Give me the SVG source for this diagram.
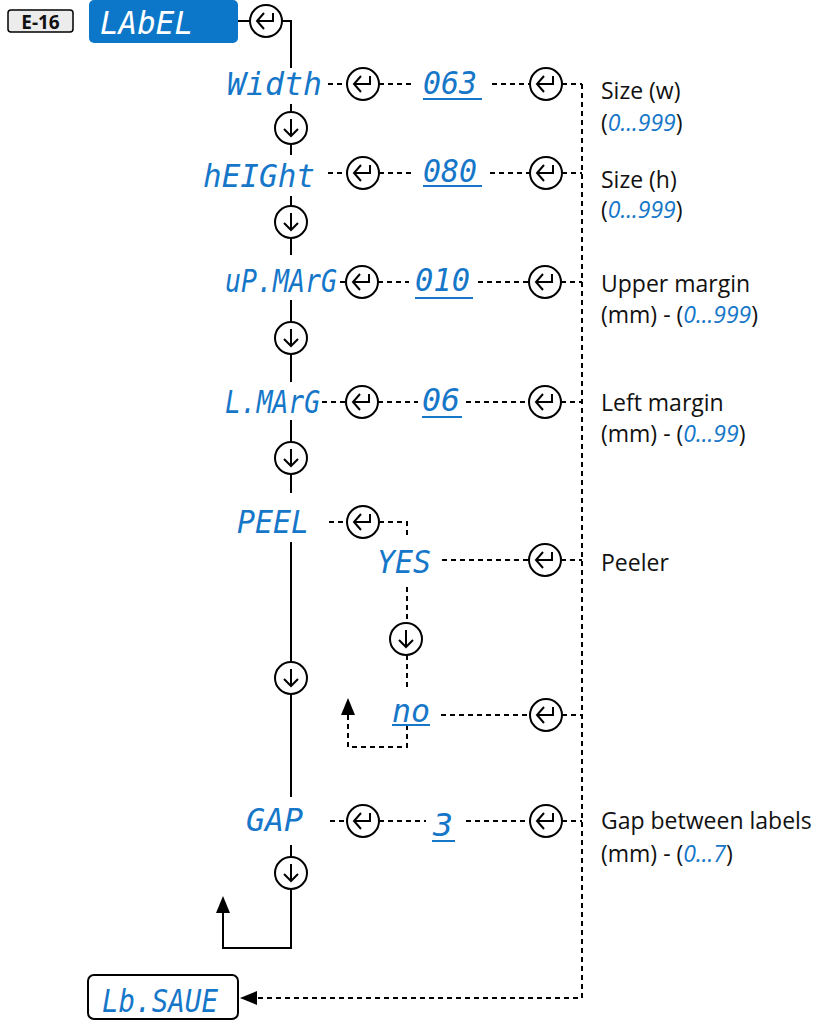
<svg xmlns="http://www.w3.org/2000/svg" width="833" height="1021" viewBox="0 0 833 1021">
<style>
.seg{font-family:"DejaVu Sans Mono","Liberation Mono",monospace;font-style:italic;font-size:32px;fill:#1677c9}
.segw{font-family:"DejaVu Sans Mono","Liberation Mono",monospace;font-style:italic;font-size:32px;fill:#ffffff}
.desc{font-family:"Open Sans","Noto Sans","Liberation Sans",sans-serif;font-size:23px;fill:#111}
.dig{font-family:"Open Sans","Noto Sans","Liberation Sans",sans-serif;font-style:italic;fill:#1677c9}
.ln{stroke:#000;stroke-width:2;fill:none}
.dsh{stroke:#000;stroke-width:2;fill:none;stroke-dasharray:5 4}
.ul{stroke:#1677c9;stroke-width:2}
</style>
<defs>
<g id="enter">
<circle r="16" fill="#fff" stroke="#000" stroke-width="2"/>
<path d="M-2,-8 L-9,0 L-2,8 M-9,0 H7 V-8" fill="none" stroke="#000" stroke-width="2"/>
</g>
<g id="down">
<circle r="16" fill="#fff" stroke="#000" stroke-width="2"/>
<path d="M0,-9 V8 M-7,1 L0,8 L7,1" fill="none" stroke="#000" stroke-width="2"/>
</g>
<marker id="arr" viewBox="0 0 17 14" refX="0" refY="7" markerWidth="17" markerHeight="14" markerUnits="userSpaceOnUse" orient="auto">
<path d="M0,0 L17,7 L0,14 z" fill="#000"/>
</marker>
</defs>

<g id="connectors">
<path class="ln" d="M238,21 H250"/>
<path class="ln" d="M282,21 H291 V68"/>
<path class="ln" d="M291,104 V112 M291,144 V155 M291,196 V206 M291,238 V255 M291,300 V322 M291,354 V382 M291,420 V442 M291,474 V493 M291,542 V662 M291,694 V797 M291,845 V857"/>
<path class="ln" d="M291,889 V948 H223 V913" marker-end="url(#arr)"/>
<path class="dsh" d="M328,84 H347 M379,84 H415 M492,84 H530"/>
<path class="dsh" d="M328,173 H347 M379,173 H415 M490,173 H530"/>
<path class="dsh" d="M340,282 H346 M378,282 H409 M478,282 H529"/>
<path class="dsh" d="M322,402 H346 M378,402 H418 M466,402 H529"/>
<path class="dsh" d="M329,522 H347 M379,522 H407 V535"/>
<path class="dsh" d="M442,560 H529"/>
<path class="dsh" d="M407,587 V623 M407,655 V691"/>
<path class="dsh" d="M441,715 H530"/>
<path class="dsh" d="M407,725 V747 H348 V715" marker-end="url(#arr)"/>
<path class="dsh" d="M330,821 H347 M379,821 H426 M466,821 H530"/>
<path class="dsh" d="M562,84 H582 M562,173 H582 M561,282 H582 M561,402 H582 M561,560 H582 M562,715 H582 M562,821 H582"/>
<path class="dsh" d="M582,84 V998 H257" marker-end="url(#arr)"/>
</g>

<g id="e16">
<rect x="8" y="10" width="65" height="22" rx="3" fill="#ececec" stroke="#000" stroke-width="1.5"/>
<text x="40.5" y="28.5" text-anchor="middle" font-family="Open Sans, Noto Sans, Liberation Sans, sans-serif" font-weight="bold" font-size="19" fill="#111">E-16</text>
</g>
<g id="label">
<rect x="89" y="0" width="149" height="43" rx="5" fill="#0c77c9"/>
<text class="segw" x="100" y="34" textLength="93" lengthAdjust="spacingAndGlyphs">LAbEL</text>
</g>
<g id="enter0"><use href="#enter" x="266" y="21"/></g>

<g id="width">
<text class="seg" x="227" y="95" textLength="95" lengthAdjust="spacingAndGlyphs">Width</text>
<use href="#enter" x="363" y="84"/>
<text class="seg" x="423" y="94" textLength="54" lengthAdjust="spacingAndGlyphs">063</text>
<line class="ul" x1="423" y1="99" x2="482" y2="99"/>
<use href="#enter" x="546" y="84"/>
</g>
<g id="down1"><use href="#down" x="291" y="128"/></g>

<g id="height">
<text class="seg" x="203" y="187" textLength="112" lengthAdjust="spacingAndGlyphs">hEIGht</text>
<use href="#enter" x="363" y="173"/>
<text class="seg" x="423" y="182" textLength="54" lengthAdjust="spacingAndGlyphs">080</text>
<line class="ul" x1="423" y1="186" x2="482" y2="186"/>
<use href="#enter" x="546" y="173"/>
</g>
<g id="down2"><use href="#down" x="291" y="222"/></g>

<g id="upmarg">
<text class="seg" x="225" y="292" textLength="112" lengthAdjust="spacingAndGlyphs">uP.MArG</text>
<use href="#enter" x="362" y="282"/>
<text class="seg" x="415" y="291" textLength="55" lengthAdjust="spacingAndGlyphs">010</text>
<line class="ul" x1="415" y1="298" x2="473" y2="298"/>
<use href="#enter" x="545" y="282"/>
</g>
<g id="down3"><use href="#down" x="291" y="338"/></g>

<g id="lmarg">
<text class="seg" x="225" y="413" textLength="95" lengthAdjust="spacingAndGlyphs">L.MArG</text>
<use href="#enter" x="362" y="402"/>
<text class="seg" x="422" y="411" textLength="38" lengthAdjust="spacingAndGlyphs">06</text>
<line class="ul" x1="422" y1="417" x2="462" y2="417"/>
<use href="#enter" x="545" y="402"/>
</g>
<g id="down4"><use href="#down" x="291" y="458"/></g>

<g id="peel">
<text class="seg" x="237" y="533" textLength="72" lengthAdjust="spacingAndGlyphs">PEEL</text>
<use href="#enter" x="363" y="522"/>
</g>
<g id="yes">
<text class="seg" x="377" y="573" textLength="54" lengthAdjust="spacingAndGlyphs">YES</text>
<use href="#enter" x="545" y="560"/>
</g>
<g id="down5"><use href="#down" x="406" y="639"/></g>
<g id="down6"><use href="#down" x="291" y="678"/></g>
<g id="no">
<text class="seg" x="392" y="722" textLength="38" lengthAdjust="spacingAndGlyphs">no</text>
<line class="ul" x1="392" y1="725" x2="430" y2="725"/>
<use href="#enter" x="546" y="715"/>
</g>

<g id="gap">
<text class="seg" x="246" y="831" textLength="57" lengthAdjust="spacingAndGlyphs">GAP</text>
<use href="#enter" x="363" y="821"/>
<text class="seg" x="433" y="836" textLength="20" lengthAdjust="spacingAndGlyphs">3</text>
<line class="ul" x1="432" y1="841" x2="455" y2="841"/>
<use href="#enter" x="546" y="821"/>
</g>
<g id="down7"><use href="#down" x="291" y="873"/></g>

<g id="lbsave">
<rect x="88" y="975" width="150" height="44" rx="6" fill="#fff" stroke="#000" stroke-width="2"/>
<text class="seg" x="102" y="1012" textLength="116" lengthAdjust="spacingAndGlyphs">Lb.SAUE</text>
</g>

<g id="descriptions">
<text class="desc" x="601" y="99">Size (w)</text>
<text class="desc" x="601" y="131">(<tspan class="dig">0...999</tspan>)</text>
<text class="desc" x="601" y="188">Size (h)</text>
<text class="desc" x="601" y="218">(<tspan class="dig">0...999</tspan>)</text>
<text class="desc" x="601" y="292">Upper margin</text>
<text class="desc" x="601" y="323">(mm) - (<tspan class="dig">0...999</tspan>)</text>
<text class="desc" x="601" y="411">Left margin</text>
<text class="desc" x="601" y="442">(mm) - (<tspan class="dig">0...99</tspan>)</text>
<text class="desc" x="601" y="571">Peeler</text>
<text class="desc" x="601" y="829">Gap between labels</text>
<text class="desc" x="601" y="862">(mm) - (<tspan class="dig">0...7</tspan>)</text>
</g>
</svg>
